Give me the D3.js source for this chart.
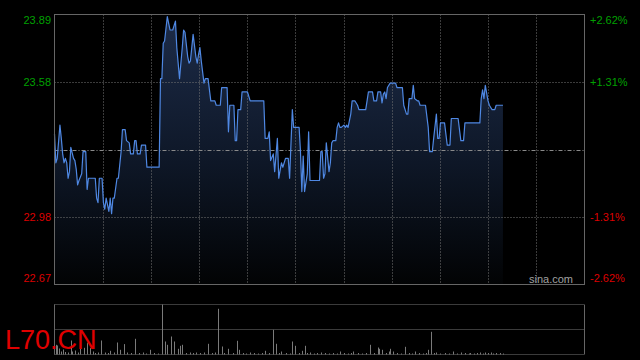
<!DOCTYPE html>
<html><head><meta charset="utf-8">
<script src="https://cdn.jsdelivr.net/npm/d3@7"></script>
<style>html,body{margin:0;padding:0;background:#000;}svg{display:block;}</style>
</head><body>
<svg id="c" width="640" height="360"></svg>
<script>
// ---- data ----
const prevClose = 23.28;
const pctStep = 1.31;                 // percent per gridline
const tickSteps = [2, 1, 0, -1, -2];
const leftTickLabels = ["23.89", "23.58", "", "22.98", "22.67"];
const rightTickLabels = ["+2.62%", "+1.31%", "", "-1.31%", "-2.62%"];
const sessionMinutes = 390;
const gridColumns = 11;
const symbol = "L70.CN";
const watermark = "sina.com";

const minutes = [0,1,2,4,5,6,7,8,9,10,11,12,14,15,16,17,18,20,21,23,24,25,30,31,32,33,35,36,37,38,40,41,42,43,44,46,47,49,50,52,53,55,56,58,59,60,61,63,64,67,68,77,78,79,80,81,83,85,87,89,90,92,94,95,96,98,99,100,102,104,105,106,107,108,110,111,113,115,118,119,122,123,127,128,129,132,133,134,135,137,138,142,144,154,155,157,158,159,161,162,164,165,167,168,170,172,173,175,176,177,180,181,182,183,184,186,187,188,195,196,197,198,199,200,202,203,204,205,207,208,209,210,211,213,214,215,216,218,219,221,223,224,229,230,231,234,235,237,238,240,241,242,243,244,245,247,251,252,256,257,259,260,261,263,264,265,267,268,269,273,275,276,278,279,281,282,283,284,287,289,291,292,297,299,301,302,313,314,315,316,317,319,320,321,322,324,325,330];
const prices = [23.35,23.22,23.24,23.39,23.33,23.26,23.22,23.24,23.22,23.15,23.18,23.29,23.24,23.23,23.19,23.12,23.14,23.17,23.27,23.27,23.10,23.15,23.15,23.06,23.04,23.15,23.15,23.04,23.01,23.06,23.00,23.06,22.99,23.06,23.06,23.15,23.15,23.27,23.37,23.37,23.32,23.31,23.26,23.26,23.32,23.32,23.26,23.26,23.30,23.30,23.20,23.20,23.60,23.60,23.76,23.77,23.88,23.82,23.82,23.86,23.74,23.60,23.74,23.82,23.81,23.70,23.67,23.68,23.80,23.70,23.67,23.71,23.74,23.68,23.58,23.60,23.60,23.50,23.50,23.48,23.48,23.56,23.56,23.36,23.48,23.48,23.32,23.32,23.46,23.46,23.54,23.54,23.50,23.50,23.33,23.33,23.36,23.23,23.26,23.18,23.33,23.15,23.22,23.20,23.24,23.24,23.15,23.46,23.38,23.38,23.38,23.27,23.09,23.25,23.09,23.17,23.36,23.14,23.14,23.27,23.27,23.15,23.17,23.31,23.18,23.22,23.31,23.32,23.32,23.38,23.40,23.38,23.38,23.39,23.38,23.39,23.38,23.44,23.50,23.50,23.48,23.46,23.46,23.50,23.54,23.54,23.50,23.50,23.54,23.54,23.49,23.53,23.54,23.51,23.56,23.58,23.58,23.56,23.56,23.48,23.44,23.44,23.51,23.51,23.57,23.51,23.50,23.50,23.48,23.48,23.38,23.27,23.27,23.33,23.44,23.33,23.33,23.40,23.40,23.30,23.30,23.42,23.42,23.32,23.32,23.40,23.40,23.51,23.55,23.51,23.57,23.50,23.48,23.47,23.46,23.46,23.48,23.48];

const volMinutes = [1,2,3,5,6,8,10,12,13,15,17,19,22,24,26,28,30,32,34,37,39,41,44,46,48,51,53,56,59,62,65,67,70,73,76,79,81,83,86,88,91,92,94,97,100,102,104,107,110,113,116,118,120,123,125,128,131,134,136,139,141,144,147,150,153,155,158,161,163,165,167,170,173,175,177,180,182,184,186,188,191,193,196,199,202,205,208,210,213,216,218,220,223,226,229,232,235,238,239,241,244,246,247,249,252,255,258,261,263,265,268,271,273,275,277,279,281,284,287,290,293,296,299,302,305,306,309,311,313,315,317,319,321,323,325,328,330];
const volumes = [970,900,600,300,500,250,200,1400,300,400,200,800,670,1200,670,300,150,200,1400,200,150,370,200,1200,470,1040,200,150,1570,150,200,100,470,150,100,5000,1300,970,1800,1300,570,870,970,150,200,150,200,150,200,1070,150,200,4570,800,150,570,150,1370,470,150,100,200,150,100,150,370,150,2470,1070,150,300,150,100,1300,870,150,370,870,150,200,100,150,200,150,100,150,100,300,150,100,150,300,150,100,150,970,150,700,570,470,150,300,570,300,150,100,770,150,100,300,150,100,150,470,2270,150,200,100,150,100,300,100,200,150,100,150,100,150,200,100,200,150,200,100,150,150,100];

// ---- layout ----
const svg = d3.select("#c");
const L = 54.5, R = 584.5, T = 14.5, B = 284.5;
const VT = 304.5, VB = 354.5;

const x = d3.scaleLinear().domain([0, sessionMinutes]).range([L, R]);
const y = d3.scaleLinear()
  .domain([prevClose * (1 - 2 * pctStep / 100), prevClose * (1 + 2 * pctStep / 100)])
  .range([B, T]);
const yv = d3.scaleLinear().domain([0, d3.max(volumes)]).range([VB, VT]);

const pts = minutes.map((m, i) => ({m, p: prices[i]}));

// gradient
const defs = svg.append("defs");
const g = defs.append("linearGradient").attr("id", "fillG")
  .attr("gradientUnits", "userSpaceOnUse")
  .attr("x1", 0).attr("x2", 0).attr("y1", T).attr("y2", B);
g.append("stop").attr("offset", "0%").attr("stop-color", "#1d2c49");
g.append("stop").attr("offset", "55%").attr("stop-color", "#0e1727");
g.append("stop").attr("offset", "100%").attr("stop-color", "#020304");

// area + line
svg.append("path").datum(pts)
  .attr("d", d3.area().x(d => x(d.m)).y0(B).y1(d => y(d.p)))
  .attr("fill", "url(#fillG)");

// grid: vertical
const colTicks = d3.range(1, gridColumns).map(k => k * sessionMinutes / gridColumns);
svg.append("g").selectAll("line").data(colTicks).join("line")
  .attr("x1", d => Math.round(x(d)) + 0.5).attr("x2", d => Math.round(x(d)) + 0.5)
  .attr("y1", T).attr("y2", B)
  .attr("stroke", "#777").attr("stroke-width", 1).attr("stroke-dasharray", "1,2");

// grid: horizontal
const tickVals = tickSteps.map(k => prevClose * (1 + k * pctStep / 100));
svg.append("g").selectAll("line").data(tickSteps.filter(k => Math.abs(k) === 1)).join("line")
  .attr("x1", L).attr("x2", R)
  .attr("y1", k => Math.round(y(prevClose * (1 + k * pctStep / 100))) + 0.5)
  .attr("y2", k => Math.round(y(prevClose * (1 + k * pctStep / 100))) + 0.5)
  .attr("stroke", "#777").attr("stroke-dasharray", "1,2");
svg.append("line")
  .attr("x1", L).attr("x2", R)
  .attr("y1", Math.round(y(prevClose)) + 0.5).attr("y2", Math.round(y(prevClose)) + 0.5)
  .attr("stroke", "#8a8a8a").attr("stroke-dasharray", "4,2,1,2");

svg.append("path").datum(pts)
  .attr("d", d3.line().x(d => x(d.m)).y(d => y(d.p)))
  .attr("fill", "none").attr("stroke", "#4f88e3").attr("stroke-width", 1.2)
  .attr("stroke-linejoin", "round");

// frame
svg.append("rect").attr("x", L).attr("y", T).attr("width", R - L).attr("height", B - T)
  .attr("fill", "none").attr("stroke", "#666");

// axis labels
const labY = v => Math.max(T + 6, Math.min(B - 6, y(v)));
tickSteps.forEach((k, i) => {
  if (!leftTickLabels[i]) return;
  const col = k > 0 ? "#00a000" : "#dd0000";
  svg.append("text").attr("x", 51).attr("y", labY(tickVals[i])).attr("dy", "0.35em")
    .attr("text-anchor", "end").attr("fill", col)
    .style("font", "11px 'Liberation Sans', Arial, sans-serif").text(leftTickLabels[i]);
  svg.append("text").attr("x", 590).attr("y", labY(tickVals[i])).attr("dy", "0.35em")
    .attr("text-anchor", "start").attr("fill", col)
    .style("font", "11px 'Liberation Sans', Arial, sans-serif").text(rightTickLabels[i]);
});

svg.append("text").attr("x", 573).attr("y", 279).attr("dy", "0.35em")
  .attr("text-anchor", "end").attr("fill", "#a0a0a0")
  .style("font", "11px 'Liberation Sans', Arial, sans-serif").text(watermark);

// volume panel
svg.append("g").selectAll("line").data([VT, (VT + VB) / 2, VB]).join("line")
  .attr("x1", L).attr("x2", R).attr("y1", d => d).attr("y2", d => d)
  .attr("stroke", "#777").attr("stroke-dasharray", "1,1");
svg.append("line").attr("x1", L).attr("x2", L).attr("y1", VT).attr("y2", VB).attr("stroke", "#666");
svg.append("line").attr("x1", R).attr("x2", R).attr("y1", VT).attr("y2", VB).attr("stroke", "#666");

svg.append("g").selectAll("rect").data(volMinutes.map((m, i) => ({m, v: volumes[i]}))).join("rect")
  .attr("x", d => Math.round(x(d.m)))
  .attr("width", 1)
  .attr("y", d => yv(d.v))
  .attr("height", d => VB - yv(d.v))
  .attr("fill", "#7a7a7a");

svg.append("text").attr("x", 5).attr("y", 349)
  .attr("fill", "#e00000")
  .style("font", "27px 'Liberation Sans', Arial, sans-serif").text(symbol);
</script>
</body></html>
